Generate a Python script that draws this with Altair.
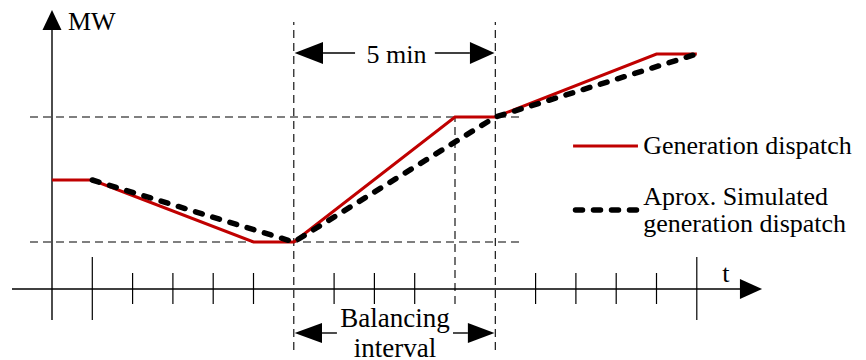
import altair as alt
import pandas as pd

# ---- data (time in 1-minute ticks, power in arbitrary MW units) ----
gen_t = [0, 1, 5, 6, 10, 11, 15, 16]
gen_mw = [109, 109, 47, 47, 172, 172, 235, 235]
sim_t = [1, 6, 11, 16]
sim_mw = [109, 47, 172, 235]

short_tick_t = [2, 3, 4, 5, 7, 8, 9, 12, 13, 14, 15]
long_tick_t = [1, 16]
interval_t = [6, 11]          # balancing interval borders
ramp_end_t = [10]
ref_levels = [172, 47]

FONT = "Liberation Serif"
X = alt.Scale(domain=[-1.0918, 20.0], nice=False, zero=False)
Y = alt.Scale(domain=[-71, 281], nice=False, zero=False)


def xe(f):
    return alt.X(f, type="quantitative", scale=X, axis=None)


def ye(f):
    return alt.Y(f, type="quantitative", scale=Y, axis=None)


def seg_v(ts, lo, hi):
    return pd.DataFrame({"t": ts, "lo": [lo] * len(ts), "hi": [hi] * len(ts)})


# axes
x_axis = alt.Chart(pd.DataFrame({"a": [-0.993], "b": [17.2], "m": [0]})).mark_rule(
    color="black", strokeWidth=1.4).encode(x=xe("a"), x2="b", y=ye("m"))
y_axis = alt.Chart(pd.DataFrame({"t": [0], "lo": [-31], "hi": [262]})).mark_rule(
    color="black", strokeWidth=1.4).encode(x=xe("t"), y=ye("lo"), y2="hi")

x_head = alt.Chart(pd.DataFrame({"t": [17.07, 17.62], "a": [10, 0], "b": [-10, 0]})).mark_area(
    color="black", orient="vertical").encode(x=xe("t"), y=ye("a"), y2="b")
y_head = alt.Chart(pd.DataFrame({"m": [259, 279], "a": [-0.236, 0], "b": [0.236, 0]})).mark_area(
    color="black", orient="horizontal").encode(y=ye("m"), x=xe("a"), x2="b")

short_ticks = alt.Chart(seg_v(short_tick_t, -15, 16)).mark_rule(
    color="black", strokeWidth=1.2).encode(x=xe("t"), y=ye("lo"), y2="hi")
long_ticks = alt.Chart(seg_v(long_tick_t, -31, 32)).mark_rule(
    color="black", strokeWidth=1.2).encode(x=xe("t"), y=ye("lo"), y2="hi")

dash = [8, 5]
v_dash = alt.Chart(seg_v(interval_t, -61, 267)).mark_rule(
    color="black", strokeWidth=1.1, strokeDash=dash).encode(x=xe("t"), y=ye("lo"), y2="hi")
v_dash2 = alt.Chart(seg_v(ramp_end_t, -15, 172)).mark_rule(
    color="black", strokeWidth=1.1, strokeDash=dash).encode(x=xe("t"), y=ye("lo"), y2="hi")
h_dash = alt.Chart(pd.DataFrame({"m": ref_levels, "a": [-0.546] * 2, "b": [11.69] * 2})).mark_rule(
    color="black", strokeWidth=1.1, strokeDash=dash).encode(y=ye("m"), x=xe("a"), x2="b")

# series
gen = alt.Chart(pd.DataFrame({"t": gen_t, "m": gen_mw})).mark_line(
    color="#c00000", strokeWidth=3).encode(x=xe("t"), y=ye("m"))
sim = alt.Chart(pd.DataFrame({"t": sim_t, "m": sim_mw})).mark_line(
    color="black", strokeWidth=5.5, strokeDash=[7, 11], strokeCap="round").encode(x=xe("t"), y=ye("m"))

# double arrows
def double_arrow(y, tip_l, base_l, end_l, start_r, base_r, tip_r, half):
    heads = []
    for tip, base in ((tip_l, base_l), (tip_r, base_r)):
        heads.append(alt.Chart(pd.DataFrame({"t": [base, tip], "a": [y + half, y], "b": [y - half, y]}))
                     .mark_area(color="black", orient="vertical")
                     .encode(x=xe("t"), y=ye("a"), y2="b"))
    shafts = alt.Chart(pd.DataFrame({"a": [base_l, start_r], "b": [end_l, base_r], "m": [y, y]})).mark_rule(
        color="black", strokeWidth=1.4).encode(x=xe("a"), x2="b", y=ye("m"))
    return heads + [shafts]

arrows_5 = double_arrow(236, 6.02, 6.725, 7.52, 9.50, 10.37, 10.98, 11)
arrows_b = double_arrow(-44, 6.02, 6.70, 7.07, 9.95, 10.32, 10.98, 10)

# texts
labels = pd.DataFrame({
    "t": [0.397, 8.55, 8.51, 8.51, 16.63],
    "m": [259, 226, -38, -68, 7],
    "txt": ["MW", "5 min", "Balancing", "interval", "t"],
    "al": ["left", "center", "center", "center", "left"],
    "fs": [26, 26, 27, 27, 26],
})
texts = []
for _, r in labels.iterrows():
    texts.append(alt.Chart(pd.DataFrame([r])).mark_text(
        font=FONT, fontSize=int(r["fs"]), align=r["al"], baseline="alphabetic", color="black"
    ).encode(x=xe("t"), y=ye("m"), text="txt:N"))

# legend
leg_red = alt.Chart(pd.DataFrame({"t": [12.93, 14.54], "m": [143, 143]})).mark_line(
    color="#c00000", strokeWidth=3).encode(x=xe("t"), y=ye("m"))
leg_blk = alt.Chart(pd.DataFrame({"t": [12.99, 14.55], "m": [79, 79]})).mark_line(
    color="black", strokeWidth=5.5, strokeDash=[7, 11], strokeCap="round").encode(x=xe("t"), y=ye("m"))
leg_txt = alt.Chart(pd.DataFrame({
    "t": [14.67, 14.67, 14.67],
    "m": [135, 84, 57],
    "txt": ["Generation dispatch", "Aprox. Simulated", "generation dispatch"],
})).mark_text(font=FONT, fontSize=26, align="left", baseline="alphabetic", color="black").encode(
    x=xe("t"), y=ye("m"), text="txt:N")

chart = alt.layer(
    h_dash, v_dash, v_dash2, x_axis, y_axis, x_head, y_head, short_ticks, long_ticks,
    gen, sim, *arrows_5, *arrows_b, *texts, leg_red, leg_blk, leg_txt
).properties(width=850, height=352, padding=0, autosize="none").configure_view(stroke=None)

chart.save("out.html", embed_options={"renderer": "svg", "actions": False})
